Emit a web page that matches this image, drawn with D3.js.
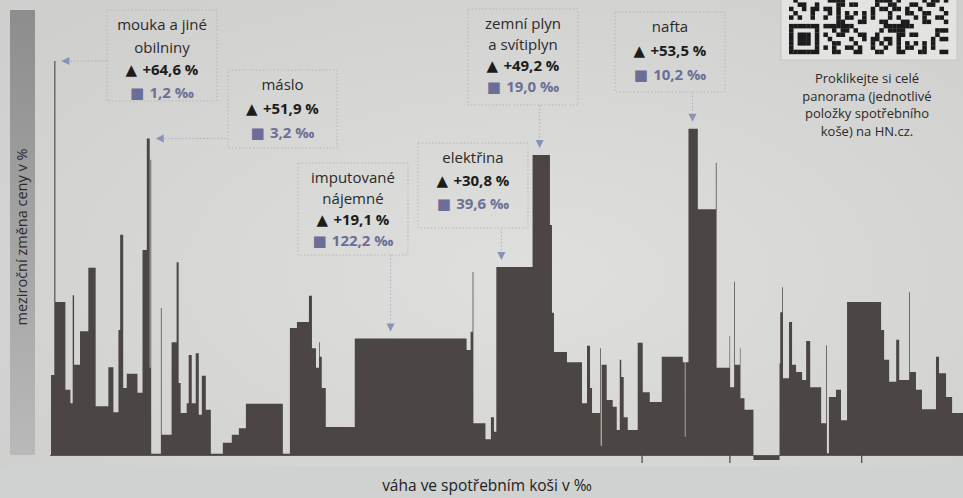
<!DOCTYPE html>
<html>
<head>
<meta charset="utf-8">
<script src="https://cdn.jsdelivr.net/npm/d3@7"></script>
<style>
  html, body { margin: 0; padding: 0; background: #d8d8d6; }
  svg { display: block; font-family: "Open Sans", "Noto Sans", sans-serif; }
</style>
</head>
<body>
<svg id="chart" width="963" height="498"></svg>
<script>
// váha položky v koši (‰) a meziroční změna ceny (%), v pořadí jak jdou v grafu
const weights = [
  3.6, 1.2, 10.9, 5.5, 2.5, 1.5, 6.5, 9.1, 8.0, 13.9, 5.5, 5.5, 1.9, 3.3, 3.9, 11.7, 5.5, 4.7, 3.2, 0.8, 0.8, 10.6,
  0.8, 10.9, 5.5, 2.2, 2.2, 6.6, 2.2, 3.3, 4.4, 3.3, 3.3, 4.4, 5.5, 13.1,
  9.8, 7.7, 7.7, 40.4, 7.7,
  7.7, 13.1, 3.3, 4.4, 3.3, 0.8, 2.2, 4.4, 31.7, 122.2, 4.4, 2.2, 0.8, 13.2, 6.0, 3.3, 2.6,
  39.6, 19.0, 2.2, 2.2, 14.2, 16.4, 5.5, 3.3, 2.2, 8.7, 0.8, 1.0, 5.5, 6.6, 4.4, 3.3, 1.6, 2.7, 4.4, 10.9,
  5.5, 7.7, 13.1, 23.0, 2.2, 0.7, 3.3, 10.2, 19.7, 0.8, 14.2, 0.6, 4.4, 0.8, 5.5, 0.6, 4.4, 9.8,
  28.5,
  0.8, 2.2, 0.8, 6.6, 3.3, 4.4, 6.6, 4.4, 4.4, 12.0, 5.5, 0.8, 2.2, 7.7, 5.5, 6.6,
  37.2, 3.3, 5.5, 7.7, 3.3, 10.9, 0.8, 6.6, 6.6, 15.3, 3.3, 7.7, 6.6, 13.1
];
const changes = [
  13.1, 64.6, 25.1, 10.7, 8.5, 26.2, 14.8, 20.3, 30.7, 8.0, 14.4, 7.0, 20.5, 36.1, 11.0, 13.3, 10.2, 33.6, 51.9, 14.3, 48.4, 0.2,
  24.1, 3.3, 18.5, 31.6, 11.8, 6.9, 8.5, 16.4, 8.5, 16.7, 6.6, 13.0, 7.4, 0.2,
  2.0, 3.3, 4.4, 8.4, 0.2,
  20.8, 21.8, 26.1, 17.5, 14.3, 18.5, 16.1, 11.0, 4.6, 19.1, 17.2, 20.2, 30.0, 5.2, 2.6, 6.2, 3.8,
  30.8, 49.2, 37.7, 23.3, 16.9, 15.2, 8.5, 17.9, 11.0, 6.9, 17.5, 1.5, 14.8, 9.0, 7.9, 4.1, 15.6, 12.8, 6.2, 4.1,
  18.4, 10.3, 8.7, 16.1, 15.2, 3.0, 15.2, 53.5, 40.3, 47.9, 14.3, 19.5, 11.1, 28.4, 14.8, 17.5, 9.3, 7.4,
  -0.8,
  15.0, 23.4, 27.5, 12.6, 21.8, 14.8, 13.6, 12.3, 18.7, 11.1, 5.2, 18.0, 0.3, 9.5, 10.7, 5.7,
  25.1, 20.5, 15.6, 12.0, 18.9, 12.3, 26.7, 13.6, 10.7, 7.5, 16.1, 13.4, 9.5, 6.9
];

// popisky vybraných položek
const callouts = [
  { name: ["mouka a jiné", "obilniny"], weight: 1.2, change: 64.6 },
  { name: ["máslo"], weight: 3.2, change: 51.9 },
  { name: ["imputované", "nájemné"], weight: 122.2, change: 19.1 },
  { name: ["elektřina"], weight: 39.6, change: 30.8 },
  { name: ["zemní plyn", "a svítiplyn"], weight: 19.0, change: 49.2 },
  { name: ["nafta"], weight: 10.2, change: 53.5 }
];
// kde jsou rámečky (px) a odkud míří šipka
const calloutBoxes = [
  { x: 107, y: 10, w: 110, h: 91, dir: "left", lh: 22.5 },
  { x: 228, y: 70, w: 109, h: 78, dir: "left", lh: 24 },
  { x: 298, y: 163, w: 110, h: 92, dir: "down", at: 0.32, lh: 21 },
  { x: 418, y: 143, w: 110, h: 85, dir: "down", at: 0.14, lh: 23 },
  { x: 468, y: 9, w: 110, h: 96, dir: "down", at: 0.41, lh: 21 },
  { x: 615, y: 12, w: 110, h: 80, dir: "down", at: 0.43, lh: 24 }
];

const xTicks = [646, 742, 886];
const qrNote = ["Proklikejte si celé", "panorama (jednotlivé", "položky spotřebního", "koše) na HN.cz."];

const W = 963, H = 498;
const svg = d3.select("#chart");
const cz = d3.formatLocale({ decimal: ",", thousands: "\u00a0", grouping: [3], currency: ["", "\u00a0Kč"] });
const fmtChange = cz.format("+.1f"), fmtWeight = cz.format(".1f");

const x = d3.scaleLinear().domain([0, 1000]).range([51, 966]);
const y = d3.scaleLinear().domain([0, 70]).range([455, 455 - 6.1 * 70]);

// pozadí - papír
const defs = svg.append("defs");
const paper = defs.append("radialGradient").attr("id", "paper").attr("cx", "55%").attr("cy", "55%").attr("r", "70%");
paper.append("stop").attr("offset", "0%").attr("stop-color", "#dfdfdd");
paper.append("stop").attr("offset", "100%").attr("stop-color", "#cfcfcd");
const band = defs.append("linearGradient").attr("id", "yband").attr("x1", 0).attr("x2", 0).attr("y1", 0).attr("y2", 1);
band.append("stop").attr("offset", "0%").attr("stop-color", "#8d8d8d");
band.append("stop").attr("offset", "100%").attr("stop-color", "#b9b9b9");

svg.append("rect").attr("width", W).attr("height", H).attr("fill", "url(#paper)");
svg.append("rect").attr("x", 0).attr("y", 467).attr("width", W).attr("height", H - 467).attr("fill", "#cfd2d1");

// svislý pruh s popisem osy y
svg.append("rect").attr("x", 10).attr("y", 10).attr("width", 25).attr("height", 445).attr("fill", "url(#yband)");
svg.append("text")
  .attr("transform", "translate(27,237) rotate(-90)")
  .attr("text-anchor", "middle")
  .attr("font-size", 14.5)
  .attr("fill", "#2b2b2b")
  .text("meziroční změna ceny v %");

// schody - šířka = váha, výška = změna ceny
const starts = d3.cumsum([0].concat(weights));
const pts = weights.map((w, i) => ({ x0: starts[i], v: changes[i] }));
pts.push({ x0: starts[weights.length], v: changes[changes.length - 1] });

const area = d3.area()
  .x(d => x(d.x0))
  .y0(y(0))
  .y1(d => y(d.v))
  .curve(d3.curveStepAfter);

svg.append("path").datum(pts).attr("d", area).attr("fill", "#4b4643");

// základní linka a značky
svg.append("line").attr("x1", 50).attr("x2", W).attr("y1", y(0) + 0.5).attr("y2", y(0) + 0.5)
  .attr("stroke", "#5a5654").attr("stroke-width", 1);
svg.selectAll(".tick").data(xTicks).enter().append("line")
  .attr("class", "tick")
  .attr("x1", d => x(d)).attr("x2", d => x(d))
  .attr("y1", y(0)).attr("y2", y(0) + 8)
  .attr("stroke", "#444").attr("stroke-width", 1.2);

svg.append("text")
  .attr("x", 487).attr("y", 491)
  .attr("text-anchor", "middle")
  .attr("font-size", 15.5)
  .attr("fill", "#222")
  .text("váha ve spotřebním koši v ‰");

// popisky
callouts.forEach((c, k) => {
  const b = calloutBoxes[k];
  const i = weights.findIndex((w, j) => w === c.weight && changes[j] === c.change);
  const xl = x(starts[i]), xr = x(starts[i + 1]), top = y(c.change);
  const g = svg.append("g");

  g.append("rect").attr("x", b.x).attr("y", b.y).attr("width", b.w).attr("height", b.h)
    .attr("fill", "none").attr("stroke", "#b7b7b5").attr("stroke-dasharray", "1.5 2");

  if (b.dir === "left") {
    const tip = xr + 6;
    g.append("line").attr("x1", tip + 9).attr("x2", b.x).attr("y1", top).attr("y2", top)
      .attr("stroke", "#aeb0bb").attr("stroke-dasharray", "1.5 2");
    g.append("path").attr("d", `M${tip},${top}L${tip + 8},${top - 4}L${tip + 8},${top + 4}Z`).attr("fill", "#8a91b8");
  } else {
    const ax = xl + b.at * (xr - xl), tipY = top - 7;
    g.append("line").attr("x1", ax).attr("x2", ax).attr("y1", b.y + b.h).attr("y2", tipY - 9)
      .attr("stroke", "#aeb0bb").attr("stroke-dasharray", "1.5 2");
    g.append("path").attr("d", `M${ax},${tipY}L${ax - 4},${tipY - 8}L${ax + 4},${tipY - 8}Z`).attr("fill", "#8a91b8");
  }

  const cx = b.x + b.w / 2;
  let ty = b.y + 20;
  c.name.forEach(line => {
    g.append("text").attr("x", cx).attr("y", ty).attr("text-anchor", "middle")
      .attr("font-size", 15).attr("fill", "#2a2a2a").text(line);
    ty += b.lh;
  });
  const t1 = g.append("text").attr("x", cx).attr("y", ty).attr("text-anchor", "middle")
    .attr("font-size", 15).attr("font-weight", 700).attr("fill", "#1c1c1c");
  t1.append("tspan").attr("font-size", 15).attr("font-family", "DejaVu Sans").text("▲ ");
  t1.append("tspan").text(fmtChange(c.change) + " %");
  ty += b.lh;
  const t2 = g.append("text").attr("x", cx).attr("y", ty).attr("text-anchor", "middle")
    .attr("font-size", 15).attr("font-weight", 700).attr("fill", "#6b6f98");
  t2.append("tspan").attr("font-size", 15).attr("font-family", "DejaVu Sans").text("■ ");
  t2.append("tspan").text(fmtWeight(c.weight) + " ‰");
});

// QR kód vpravo nahoře (jen dekorace)
const qr = svg.append("g");
qr.append("rect").attr("x", 781).attr("y", -2).attr("width", 176).attr("height", 62)
  .attr("fill", "#e3e3e1").attr("stroke", "#c4c4c2");
const mod = 4.3, qx = 789, qBottom = 54, cols = 37, rows = 13;
const cells = [];
for (let r = 0; r < rows; r++) {
  for (let c = 0; c < cols; c++) {
    let on;
    if (c < 7 && r < 7) {
      const ring = Math.min(c, r, 6 - c, 6 - r);
      on = ring === 0 || ring >= 2;
    } else if (c === 7 || r === 7 && c < 8) {
      on = false;
    } else {
      on = ((c * 31 + r * 17 + (c * r) % 7) % 5) < 2;
    }
    if (on) cells.push({ r, c });
  }
}
qr.selectAll("rect.m").data(cells).enter().append("rect")
  .attr("class", "m")
  .attr("x", d => qx + d.c * mod)
  .attr("y", d => qBottom - (d.r + 1) * mod)
  .attr("width", mod + 0.2).attr("height", mod + 0.2)
  .attr("fill", "#1b1b1b");

svg.selectAll(".qrnote").data(qrNote).enter().append("text")
  .attr("class", "qrnote")
  .attr("x", 867)
  .attr("y", (d, i) => 83 + i * 17.5)
  .attr("text-anchor", "middle")
  .attr("font-size", 13)
  .attr("fill", "#2a2a2a")
  .text(d => d);
</script>
</body>
</html>
